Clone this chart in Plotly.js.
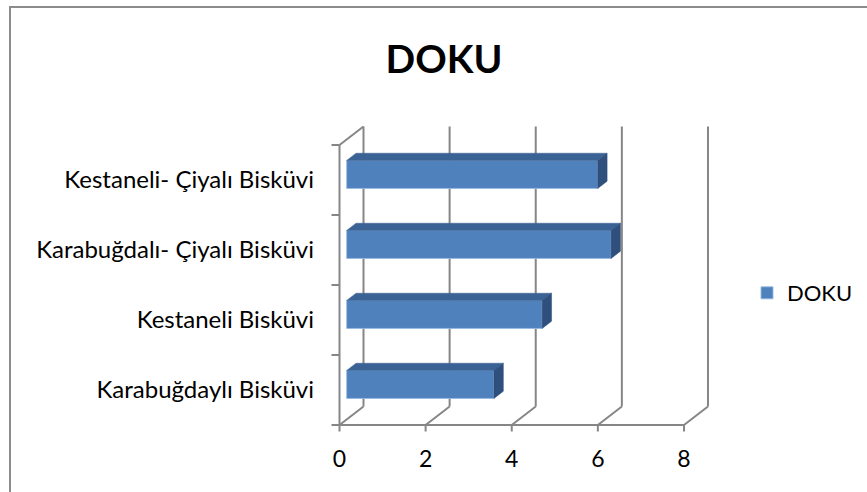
<!DOCTYPE html>
<html>
<head>
<meta charset="utf-8">
<script src="https://cdn.plot.ly/plotly-3.0.1.min.js"></script>
<style>
  html, body { margin: 0; padding: 0; background: #ffffff; }
  #chart { width: 867px; height: 492px; }
</style>
</head>
<body>
<div id="chart"></div>
<script>
// Texture (DOKU) scores per biscuit type, listed bottom to top
const categories = [
  'Karabuğdaylı Bisküvi',
  'Kestaneli Bisküvi',
  'Karabuğdalı- Çiyalı Bisküvi',
  'Kestaneli- Çiyalı Bisküvi'
];
const dokuValues = [3.42, 4.54, 6.14, 5.83];
const xTickValues = [0, 2, 4, 6, 8];
const seriesName = 'DOKU';

// ---- pseudo-3D frame geometry (in axis units) ----
const W = 867, H = 492;
const M = { l: 329, r: 139, t: 100, b: 55, autoexpand: false };
const plotW = W - M.l - M.r, plotH = H - M.t - M.b;
const PXX = 43.06;          // pixels per x unit
const PXY = 70;             // pixels per category slot
const xLo = -10.5 / PXX;
const yLo = -12 / PXY;
const Dx = 24 / PXX;        // depth offset, x
const Dy = 18.5 / PXY;      // depth offset, y
const f0 = 0.30, f1 = 0.69; // bar front / back depth fractions
const halfBar = 0.2;
const nCat = categories.length;
const xMax = xTickValues[xTickValues.length - 1];

const wallColor = '#868686';
const shapes = [];
function seg(x0, y0, x1, y1) {
  shapes.push({ type: 'line', xref: 'x', yref: 'y', x0, y0, x1, y1, layer: 'below',
                line: { color: wallColor, width: 2 } });
}
xTickValues.forEach(t => {
  seg(t + Dx, Dy, t + Dx, nCat + Dy);     // back wall gridline
  seg(t, 0, t + Dx, Dy);                  // floor edge
  seg(t, 0, t, -6.5 / PXY);               // tick mark
});
seg(0, 0, xMax, 0);                       // front floor edge
seg(0, 0, 0, nCat);                       // side wall front edge
seg(0, nCat, Dx, nCat + Dy);              // side wall top edge
for (let k = 0; k <= nCat; k++) seg(0, k, -8 / PXX, k);

// outer chart frame
const px2paperX = px => (px - M.l) / plotW;
const px2paperY = py => 1 - (py - M.t) / plotH;
shapes.push({ type: 'rect', xref: 'paper', yref: 'paper',
  x0: px2paperX(10), y0: px2paperY(H + 10), x1: px2paperX(W + 10), y1: px2paperY(7),
  line: { color: '#8c8c8c', width: 2 }, layer: 'below' });

// ---- bars: front face as a bar trace, top and side faces as filled polygons ----
const yFront = categories.map((_, i) => i + 0.5 + f0 * Dy);
const base = f0 * Dx;
const dDx = (f1 - f0) * Dx, dDy = (f1 - f0) * Dy;

const topX = [], topY = [], sideX = [], sideY = [];
dokuValues.forEach((v, i) => {
  const yt = yFront[i] + halfBar, yb = yFront[i] - halfBar;
  const xl = base, xr = base + v;
  topX.push(xl, xr, xr + dDx, xl + dDx, xl, null);
  topY.push(yt, yt, yt + dDy, yt + dDy, yt, null);
  sideX.push(xr, xr, xr + dDx, xr + dDx, xr, null);
  sideY.push(yb, yt, yt + dDy, yb + dDy, yb, null);
});

const traces = [
  {
    type: 'bar', orientation: 'h', name: seriesName,
    x: dokuValues, y: yFront, base: base, width: 2 * halfBar,
    marker: { color: '#4f81bd', line: { color: 'rgba(150,185,225,0.9)', width: 1 } },
    hoverinfo: 'skip'
  },
  {
    type: 'scatter', mode: 'lines', x: topX, y: topY, fill: 'toself',
    fillcolor: '#3b6294', line: { color: '#3b6294', width: 0.5 },
    showlegend: false, hoverinfo: 'skip'
  },
  {
    type: 'scatter', mode: 'lines', x: sideX, y: sideY, fill: 'toself',
    fillcolor: '#2f4f7c', line: { color: '#2f4f7c', width: 0.5 },
    showlegend: false, hoverinfo: 'skip'
  }
];

const font = 'Lato, "Open Sans", sans-serif';
const layout = {
  width: W, height: H,
  margin: M,
  paper_bgcolor: '#ffffff', plot_bgcolor: 'rgba(0,0,0,0)',
  font: { family: font, size: 24, color: '#000000' },
  title: {
    text: '<b>DOKU</b>',
    font: { family: font, size: 39, color: '#000000' },
    x: 444 / W, xanchor: 'center', xref: 'container',
    y: 1 - 59 / H, yanchor: 'middle', yref: 'container'
  },
  showlegend: true,
  legend: {
    x: px2paperX(747), xanchor: 'left',
    y: px2paperY(293), yanchor: 'middle',
    font: { family: font, size: 22, color: '#000000' },
    bgcolor: 'rgba(0,0,0,0)'
  },
  xaxis: {
    range: [xLo, xLo + plotW / PXX],
    tickvals: xTickValues, ticktext: xTickValues.map(String),
    tickfont: { family: font, size: 23, color: '#000000' },
    showgrid: false, zeroline: false, showline: false, ticks: '',
    ticklabelstandoff: 6, fixedrange: true
  },
  yaxis: {
    range: [yLo, yLo + plotH / PXY],
    tickvals: categories.map((_, i) => i + 0.5), ticktext: categories,
    tickfont: { family: font, size: 24, color: '#000000' },
    showgrid: false, zeroline: false, showline: false, ticks: '',
    ticklabelstandoff: 14, fixedrange: true
  },
  shapes: shapes
};

Plotly.newPlot('chart', traces, layout, { displayModeBar: false, staticPlot: true });
</script>
</body>
</html>
